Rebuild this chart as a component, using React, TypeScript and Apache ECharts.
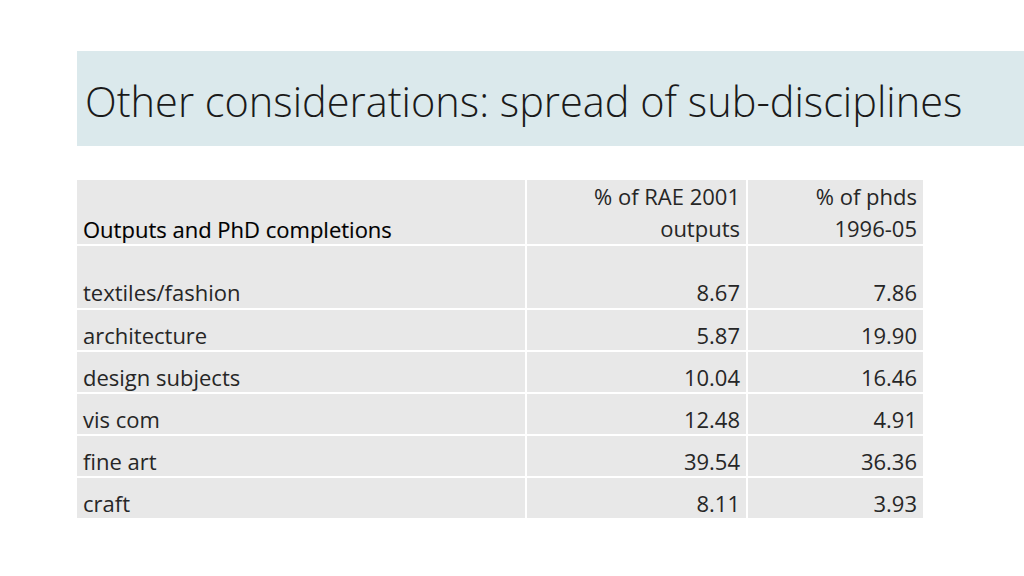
import React, { useEffect, useRef } from "react";
import * as echarts from "echarts";

const title = "Other considerations: spread of sub-disciplines";
const headerLabel = "Outputs and PhD completions";
const columnHeaders = [
  ["% of RAE 2001", "outputs"],
  ["% of phds", "1996-05"],
];
const subjects = ["textiles/fashion", "architecture", "design subjects", "vis com", "fine art", "craft"];
const raeOutputs = [8.67, 5.87, 10.04, 12.48, 39.54, 8.11];
const phdShares = [7.86, 19.9, 16.46, 4.91, 36.36, 3.93];

export default function App() {
  const ref = useRef<HTMLDivElement>(null);
  useEffect(() => {
    if (!ref.current) return;
    const chart = echarts.init(ref.current, null, { renderer: "svg" });
    const font = "'Open Sans', 'DejaVu Sans', sans-serif";
    const cellFill = "#e8e8e8";
    const textColor = "#262626";
    const fs = 22;
    // layout
    const colX = [77, 527, 748];
    const colW = [448, 219, 175];
    const rowTops = [180, 246, 310, 352, 394, 436, 478];
    const rowH = [64, 62, 40, 40, 40, 40, 40];

    const els: any[] = [];
    els.push({ type: "rect", shape: { x: 77, y: 51, width: 947, height: 95 }, style: { fill: "#dbe9ec" } });
    els.push({
      type: "text",
      x: 85,
      y: 101,
      style: { text: title, fill: "#1a1a1a", font: `300 41.5px ${font}`, verticalAlign: "middle" },
    });
    for (let r = 0; r < rowTops.length; r++) {
      for (let c = 0; c < 3; c++) {
        els.push({
          type: "rect",
          shape: { x: colX[c], y: rowTops[r], width: colW[c], height: rowH[r] },
          style: { fill: cellFill },
        });
      }
    }
    // header
    els.push({
      type: "text",
      x: 83,
      y: 229,
      style: { text: headerLabel, fill: "#000", font: `${fs}px ${font}`, verticalAlign: "middle", stroke: "#000", lineWidth: 0.15 },
    });
    columnHeaders.forEach((lines, i) => {
      const rx = colX[i + 1] + colW[i + 1] - 6;
      lines.forEach((ln, j) => {
        els.push({
          type: "text",
          x: rx,
          y: 196 + j * 32,
          style: { text: ln, fill: textColor, font: `${fs}px ${font}`, align: "right", verticalAlign: "middle" },
        });
      });
    });
    const rowY = [292, 335, 377, 419, 461, 503];
    subjects.forEach((s, i) => {
      els.push({
        type: "text",
        x: 83,
        y: rowY[i],
        style: { text: s, fill: textColor, font: `${fs}px ${font}`, verticalAlign: "middle" },
      });
      els.push({
        type: "text",
        x: colX[1] + colW[1] - 6,
        y: rowY[i],
        style: { text: raeOutputs[i].toFixed(2), fill: textColor, font: `${fs}px ${font}`, align: "right", verticalAlign: "middle" },
      });
      els.push({
        type: "text",
        x: colX[2] + colW[2] - 6,
        y: rowY[i],
        style: { text: phdShares[i].toFixed(2), fill: textColor, font: `${fs}px ${font}`, align: "right", verticalAlign: "middle" },
      });
    });

    chart.setOption({
      animation: false,
      backgroundColor: "#ffffff",
      graphic: { elements: els },
    });
    return () => chart.dispose();
  }, []);
  return <div ref={ref} style={{ position: "fixed", left: 0, top: 0, width: 1024, height: 576 }} />;
}
